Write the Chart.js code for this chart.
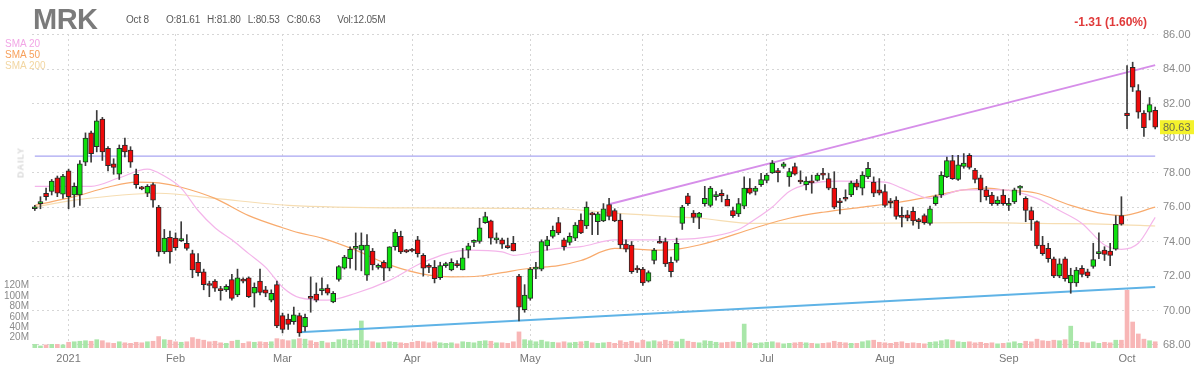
<!DOCTYPE html>
<html>
<head>
<meta charset="utf-8">
<script src="https://cdn.jsdelivr.net/npm/chart.js@4.4.0/dist/chart.umd.min.js"></script>
<style>
  html, body { margin: 0; padding: 0; background: #fff; }
  #wrap { position: relative; width: 1200px; height: 375px; overflow: hidden; font-family: 'Liberation Sans', Arial, sans-serif; }
  #chart { position: absolute; left: 0; top: 0; }
  .t { position: absolute; white-space: nowrap; line-height: 1; }
  #ticker { left: 33px; top: 5px; font-size: 29px; font-weight: bold; color: #7b7b7b; letter-spacing: -0.5px; }
  #info { left: 126px; top: 15px; font-size: 10px; color: #5a5a5a; letter-spacing: -0.2px; }
  #info span { margin-right: 7px; }
  #info span.gap { margin-right: 17px; }
  #chg { right: 53px; top: 16px; font-size: 12px; font-weight: bold; color: #e03a3a; }
  .sma { left: 5px; font-size: 10px; }
  #daily { left: 1px; top: 158px; width: 40px; text-align: center; font-size: 9px; font-weight: bold; color: #d8d8d8; letter-spacing: 1px; transform: rotate(-90deg); }
</style>
</head>
<body>
<div id="wrap">
  <canvas id="chart" width="1200" height="375"></canvas>
  <div class="t" id="ticker">MRK</div>
  <div class="t" id="info"><span class="gap">Oct 8</span><span>O:81.61</span><span>H:81.80</span><span>L:80.53</span><span class="gap">C:80.63</span><span>Vol:12.05M</span></div>
  <div class="t" id="chg">-1.31 (1.60%)</div>
  <div class="t sma" style="top:39px;color:#f2a6e6">SMA 20</div>
  <div class="t sma" style="top:50px;color:#f7a05c">SMA 50</div>
  <div class="t sma" style="top:61px;color:#f2d6a2">SMA 200</div>
  <div class="t" id="daily">DAILY</div>
</div>
<script>
// Trading days shown (Dec 23 2020 - Oct 8 2021)
const tradingDays = [
  ['2020-12', [23, 24, 28, 29, 30, 31]],
  ['2021-01', [4, 5, 6, 7, 8, 11, 12, 13, 14, 15, 19, 20, 21, 22, 25, 26, 27, 28, 29]],
  ['2021-02', [1, 2, 3, 4, 5, 8, 9, 10, 11, 12, 16, 17, 18, 19, 22, 23, 24, 25, 26]],
  ['2021-03', [1, 2, 3, 4, 5, 8, 9, 10, 11, 12, 15, 16, 17, 18, 19, 22, 23, 24, 25, 26, 29, 30, 31]],
  ['2021-04', [1, 5, 6, 7, 8, 9, 12, 13, 14, 15, 16, 19, 20, 21, 22, 23, 26, 27, 28, 29, 30]],
  ['2021-05', [3, 4, 5, 6, 7, 10, 11, 12, 13, 14, 17, 18, 19, 20, 21, 24, 25, 26, 27, 28]],
  ['2021-06', [1, 2, 3, 4, 7, 8, 9, 10, 11, 14, 15, 16, 17, 18, 21, 22, 23, 24, 25, 28, 29, 30]],
  ['2021-07', [1, 2, 6, 7, 8, 9, 12, 13, 14, 15, 16, 19, 20, 21, 22, 23, 26, 27, 28, 29, 30]],
  ['2021-08', [2, 3, 4, 5, 6, 9, 10, 11, 12, 13, 16, 17, 18, 19, 20, 23, 24, 25, 26, 27, 30, 31]],
  ['2021-09', [1, 2, 3, 7, 8, 9, 10, 13, 14, 15, 16, 17, 20, 21, 22, 23, 24, 27, 28, 29, 30]],
  ['2021-10', [1, 4, 5, 6, 7, 8]]
];
const monthLabels = ['2021', 'Feb', 'Mar', 'Apr', 'May', 'Jun', 'Jul', 'Aug', 'Sep', 'Oct'];
const priceTicks = [68, 70, 72, 74, 76, 78, 80, 82, 84, 86];
const volumeTicks = [20, 40, 60, 80, 100, 120];

const opens = [
  75.9, 76.2, 76.8, 76.9, 77.7, 76.75,
  78.1, 76.7, 76.7, 78.6, 80.3, 79.5, 81.1, 79.4, 78.5, 77.9, 79.6, 79.3, 77.9, 77.15, 76.8, 77.3, 76.0, 73.4, 74.25,
  74.2, 74.05, 73.9, 73.3, 72.8, 72.25, 71.5, 71.7, 71.2, 71.2, 71.8, 70.9, 71.8, 71.9, 71.0, 71.7, 71.2, 70.6, 71.5,
  69.7, 69.5, 69.35, 69.7, 69.05, 70.8, 70.95, 71.15, 71.3, 70.5, 71.8, 72.45, 73.0, 73.6, 73.5, 72.05, 73.45, 72.5, 72.8, 72.45, 73.7, 74.3, 73.45,
  73.5, 74.1, 73.2, 72.6, 72.5, 71.9, 72.6, 72.35, 72.7, 72.35, 73.5, 73.95, 74.0, 75.1, 75.2, 74.1, 74.1, 73.7, 73.9, 72.0, 70.05,
  70.7, 72.4, 72.4, 73.75, 74.3, 75.1, 74.1, 73.95, 74.2, 75.25, 74.9, 75.6, 75.15, 75.2, 76.15, 75.8, 75.25, 73.85, 73.8, 72.4,
  72.4, 71.7, 72.9, 74.0, 74.0, 72.8, 72.9, 75.05, 76.65, 75.65, 75.4, 76.2, 76.1, 76.6, 76.8, 76.45, 75.8, 75.6, 76.05, 77.1, 76.9, 77.3,
  77.55, 77.98, 78.05, 78.35, 77.75, 78.35, 77.5, 77.3, 77.45, 77.55, 77.9, 77.65, 77.1, 76.3, 76.5, 76.7, 77.4, 77.1, 77.75, 77.45, 77.0,
  76.9, 76.3, 76.4, 75.45, 75.55, 75.75, 75.2, 75.5, 75.05, 76.2, 76.7, 77.75, 78.7, 77.6, 78.35, 79.0, 78.15, 77.7, 77.0, 76.7, 76.2, 76.7,
  76.1, 76.3, 77.1, 76.5, 75.8, 75.15, 73.8, 73.6, 73.0, 72.0, 73.0, 71.6, 71.6, 72.45, 72.25, 72.55, 73.3, 73.5, 73.45, 73.55, 75.5,
  81.45, 84.1, 82.75, 81.45, 81.5, 81.61
];
const highs = [
  76.1, 76.6, 77.1, 77.6, 77.8, 77.9,
  78.2, 77.4, 78.7, 80.3, 80.4, 81.6, 81.2, 79.5, 78.8, 79.6, 80.0, 79.5, 78.2, 77.2, 77.3, 77.4, 76.1, 74.7, 74.6,
  74.5, 75.15, 74.4, 73.5, 73.3, 72.4, 71.7, 71.8, 71.4, 71.5, 72.1, 72.4, 71.9, 71.95, 71.6, 72.4, 71.4, 71.2, 71.7,
  69.85, 69.8, 70.2, 69.85, 69.8, 71.95, 71.6, 71.9, 71.5, 71.1, 72.6, 73.2, 73.7, 74.5, 74.5, 74.4, 73.6, 72.7, 72.9, 73.7, 74.7, 74.6, 73.55,
  73.6, 74.3, 73.3, 72.7, 72.9, 72.8, 72.8, 73.0, 72.9, 73.6, 73.9, 74.1, 75.35, 75.7, 75.25, 74.5, 74.2, 74.2, 74.3, 72.1, 71.5,
  72.5, 72.8, 74.1, 74.3, 74.9, 75.4, 74.2, 74.5, 75.1, 75.6, 76.3, 75.7, 75.7, 76.2, 76.5, 75.9, 75.6, 74.1, 74.0, 72.6,
  72.5, 72.3, 73.6, 74.3, 74.2, 73.1, 74.2, 76.1, 76.8, 75.8, 75.7, 77.2, 77.2, 76.9, 77.0, 76.7, 76.0, 76.5, 77.75, 77.65, 77.2, 77.95,
  77.95, 78.7, 78.25, 78.6, 78.25, 78.55, 78.1, 77.75, 77.85, 77.95, 78.25, 77.95, 78.05, 76.5, 77.0, 77.5, 77.6, 78.05, 78.6, 77.75, 77.65,
  77.3, 76.5, 76.6, 76.0, 75.8, 76.0, 75.35, 75.6, 76.05, 76.7, 78.05, 78.9, 79.0, 79.0, 79.1, 79.1, 78.25, 77.85, 77.2, 76.85, 76.6, 77.0,
  76.5, 77.1, 77.25, 76.6, 76.0, 75.2, 74.3, 73.9, 73.1, 73.0, 73.1, 72.45, 72.5, 72.6, 72.4, 73.9, 74.5, 73.7, 73.9, 75.5, 76.6,
  84.2, 84.4, 83.1, 81.6, 82.35, 81.80
];
const lows = [
  75.8, 75.9, 76.4, 76.7, 76.6, 76.5,
  75.9, 76.0, 76.1, 78.4, 78.6, 79.2, 78.7, 78.1, 77.9, 77.6, 78.9, 78.3, 77.1, 77.0, 76.6, 76.0, 73.15, 73.3, 72.75,
  73.5, 74.0, 73.5, 71.9, 72.0, 71.2, 70.8, 71.1, 70.6, 71.1, 70.6, 70.8, 71.6, 70.75, 70.2, 70.9, 70.8, 70.5, 69.0,
  68.7, 68.9, 69.2, 68.5, 68.8, 69.9, 70.5, 70.9, 70.9, 70.45, 71.7, 72.4, 72.45, 72.35, 72.3, 71.75, 72.35, 72.4, 71.75, 72.3, 73.5, 73.3, 73.35,
  73.4, 73.1, 72.0, 72.2, 71.6, 71.8, 72.5, 72.3, 72.5, 72.35, 73.05, 73.7, 73.9, 75.05, 73.85, 73.9, 73.6, 73.6, 73.45, 69.4, 69.9,
  70.6, 71.85, 72.3, 73.5, 74.2, 74.4, 73.5, 73.8, 74.05, 74.45, 74.75, 74.4, 74.4, 75.15, 75.25, 75.15, 73.6, 73.4, 72.15, 72.2,
  71.45, 71.65, 72.7, 73.9, 72.55, 71.95, 72.8, 74.7, 76.1, 75.1, 74.75, 76.05, 76.0, 76.4, 76.3, 76.1, 75.4, 75.45, 75.9, 76.75, 76.7, 77.2,
  77.4, 77.95, 77.45, 78.25, 77.2, 77.85, 77.35, 77.0, 76.8, 77.5, 77.6, 77.0, 75.9, 75.6, 76.35, 76.6, 77.0, 76.7, 77.65, 76.6, 76.7,
  76.0, 75.95, 75.3, 74.85, 75.2, 74.95, 74.75, 75.0, 74.95, 76.1, 76.55, 77.7, 77.6, 77.55, 78.25, 78.2, 77.4, 76.3, 76.4, 76.1, 76.1, 76.1,
  75.8, 76.2, 76.7, 75.15, 74.65, 73.6, 73.2, 72.8, 71.9, 71.9, 71.7, 71.0, 71.4, 71.95, 71.9, 72.45, 73.0, 72.9, 72.6, 73.5, 74.95,
  80.55, 82.7, 81.15, 80.1, 81.05, 80.53
];
const closes = [
  76.0, 76.3, 76.6, 77.5, 76.8, 77.8,
  76.6, 77.2, 78.5, 80.0, 79.1, 81.0, 79.2, 78.4, 78.3, 79.4, 79.2, 78.6, 77.3, 77.05, 77.2, 76.4, 73.4, 74.2, 73.4,
  73.65, 74.1, 73.6, 72.35, 72.2, 71.5, 71.45, 71.3, 71.15, 71.4, 70.7, 71.9, 71.7, 70.8, 71.35, 71.05, 71.0, 71.0, 69.1,
  68.9, 69.2, 69.75, 68.7, 69.6, 70.7, 70.6, 71.2, 71.0, 71.0, 72.55, 73.1, 73.55, 73.65, 73.8, 73.8, 72.65, 72.6, 72.45, 73.7, 74.55, 73.4, 73.4,
  73.45, 73.3, 72.45, 72.5, 71.85, 72.6, 72.65, 72.8, 72.6, 73.05, 73.75, 74.0, 74.8, 75.45, 74.2, 74.15, 73.85, 73.65, 73.45, 70.2, 70.9,
  72.4, 72.45, 74.0, 74.1, 74.65, 74.5, 73.7, 74.3, 74.95, 74.5, 76.0, 75.55, 75.6, 75.9, 75.45, 75.2, 73.8, 73.55, 72.25, 72.35,
  71.6, 72.2, 73.5, 73.9, 72.7, 72.25, 73.9, 76.0, 76.2, 75.4, 75.65, 76.5, 77.1, 76.65, 76.65, 76.05, 75.5, 76.2, 77.1, 76.8, 77.1, 77.6,
  77.85, 78.55, 78.0, 78.5, 78.05, 77.9, 77.45, 77.5, 77.4, 77.85, 77.85, 77.1, 76.0, 76.25, 76.45, 77.4, 77.15, 77.85, 78.25, 76.8, 76.8,
  76.1, 76.25, 75.45, 75.4, 75.35, 75.2, 75.15, 75.1, 75.9, 76.6, 77.85, 78.7, 77.65, 78.45, 78.55, 78.3, 77.6, 77.0, 76.6, 76.2, 76.4, 76.2,
  76.15, 77.0, 77.15, 75.8, 75.25, 73.75, 73.3, 73.0, 72.0, 72.7, 71.85, 72.05, 72.35, 72.1, 72.0, 72.95, 73.4, 73.25, 73.2, 75.0, 75.0,
  81.3, 82.95, 81.5, 80.6, 81.94, 80.63
];
// volume in millions
const volumes = [
  7, 4, 6, 7, 7, 6,
  11, 12, 13, 14, 13, 16, 14, 10, 9, 12, 10, 9, 11, 10, 12, 13, 22, 16, 15,
  12, 11, 12, 20, 17, 15, 12, 13, 10, 9, 13, 15, 9, 12, 11, 12, 11, 12, 18,
  16, 14, 16, 18, 17, 14, 11, 13, 10, 11, 16, 17, 15, 15, 52, 14, 12, 10, 11, 12, 11, 10, 9,
  11, 13, 12, 10, 12, 10, 9, 10, 8, 12, 11, 10, 13, 14, 13, 10, 10, 9, 12, 31, 16,
  14, 12, 15, 12, 11, 10, 12, 10, 11, 12, 13, 10, 9, 10, 11, 9, 14, 11, 13, 10,
  15, 12, 14, 12, 15, 13, 12, 17, 13, 11, 10, 14, 13, 11, 10, 11, 12, 11, 46, 10, 9, 10,
  11, 12, 10, 8, 9, 10, 11, 10, 9, 8, 9, 10, 13, 11, 10, 9, 9, 12, 14, 15, 11,
  10, 9, 11, 12, 9, 10, 9, 8, 11, 12, 14, 16, 15, 12, 11, 12, 10, 11, 9, 10, 8, 9,
  10, 12, 9, 13, 12, 17, 14, 13, 15, 14, 16, 42, 13, 11, 10, 12, 9, 11, 10, 15, 15,
  111, 50, 27, 17, 14, 12.05
];

// moving averages: [day index, value]
const sma20 = [
  [0, 77.2], [10, 77.2], [15, 77.7], [20, 78.2], [23, 77.8], [26, 77.1], [29, 75.8], [32, 74.8],
  [35, 74.1], [38, 73.3], [41, 72.5], [44, 71.35], [47, 70.75], [52, 70.6], [57, 71.0], [63, 71.75],
  [69, 72.8], [77, 73.5], [83, 73.4], [85, 73.2], [89, 73.4], [93, 73.6], [97, 73.7], [103, 74.1],
  [109, 74.1], [118, 74.2], [125, 74.7], [128, 75.3], [131, 76.0], [134, 76.9], [137, 77.3], [143, 77.5],
  [151, 77.45], [154, 77.1], [159, 76.5], [165, 77.0], [172, 77.0], [178, 76.5], [182, 75.8], [186, 75.05],
  [190, 73.8], [193, 73.55], [196, 73.9], [199, 75.4]
];
const sma50 = [
  [0, 76.1], [7, 76.6], [13, 77.15], [18, 77.45], [22, 77.4], [26, 77.15], [32, 76.5], [38, 75.5],
  [44, 74.8], [47, 74.5], [51, 74.2], [57, 73.5], [63, 72.65], [70, 72.05], [74, 71.95], [79, 72.0],
  [83, 72.2], [88, 72.45], [93, 72.6], [97, 72.9], [103, 73.6], [112, 73.5], [118, 73.8], [128, 74.8],
  [134, 75.35], [140, 75.7], [147, 76.0], [153, 76.25], [159, 76.6], [165, 77.0], [169, 77.1], [172, 77.0],
  [178, 76.8], [184, 76.1], [190, 75.6], [193, 75.5], [199, 76.0]
];
const sma200 = [
  [0, 76.0], [7, 76.4], [22, 76.8], [32, 76.5], [45, 76.1], [69, 75.95], [93, 75.9], [103, 75.65],
  [118, 75.35], [128, 75.05], [143, 75.05], [168, 75.1], [178, 75.05], [191, 75.0], [199, 74.9]
];
// drawn trend lines: [day index, price]
const upperTrend = [[102, 76.16], [199, 84.23]];
const lowerTrend = [[47, 68.74], [199, 71.36]];
const resistance = [[0, 78.95], [199, 78.95]];

const labels = [];
tradingDays.forEach(([m, days]) => days.forEach(d => labels.push(m + '-' + String(d).padStart(2, '0'))));
const monthStarts = tradingDays.slice(1).map(([m, days]) => labels.indexOf(m + '-' + String(days[0]).padStart(2, '0')));

const isUp = closes.map((c, i) => c >= opens[i]);
const pts = arr => arr.map(([i, v]) => ({ x: labels[i], y: v }));
const FONT = "'Liberation Sans', Arial, sans-serif";

const lineSet = (data, color, width, order) => ({
  type: 'line', data: pts(data), borderColor: color, borderWidth: width,
  pointRadius: 0, cubicInterpolationMode: 'monotone', yAxisID: 'y', order
});

// yellow last-price tag on the right axis
const lastTag = {
  id: 'lastTag',
  afterDraw(chart) {
    const { ctx, scales: { y } } = chart;
    const v = closes[closes.length - 1];
    const py = y.getPixelForValue(v);
    ctx.save();
    ctx.fillStyle = '#f4f22c';
    ctx.fillRect(y.left + 2, py - 7, 34, 14);
    ctx.fillStyle = '#6b6b50';
    ctx.font = '11px ' + FONT;
    ctx.textBaseline = 'middle';
    ctx.fillText(v.toFixed(2), y.left + 5, py + 1);
    ctx.restore();
  }
};

const ctx = document.getElementById('chart').getContext('2d');
new Chart(ctx, {
  type: 'bar',
  data: {
    labels,
    datasets: [
      {
        data: opens.map((o, i) => [o, closes[i]]),
        backgroundColor: isUp.map(u => u ? '#0ee00e' : '#ee0a0a'),
        borderColor: '#2a2a2a', borderWidth: 1, borderSkipped: false,
        barThickness: 5, minBarLength: 2, grouped: false, yAxisID: 'y', order: 0
      },
      {
        data: lows.map((l, i) => [l, highs[i]]),
        backgroundColor: '#3a3a3a', barThickness: 1, grouped: false, yAxisID: 'y', order: 1
      },
      lineSet(upperTrend, '#d68ee9', 2, 2),
      lineSet(lowerTrend, '#5fb3e6', 2, 2),
      lineSet(resistance, '#a9a6f2', 1.3, 2),
      lineSet(sma20, '#f4b5ea', 1.2, 3),
      lineSet(sma50, '#f8ab6e', 1.2, 3),
      lineSet(sma200, '#f6ddb2', 1.2, 3),
      {
        data: volumes.map(v => v * 1e6),
        backgroundColor: isUp.map(u => u ? '#a9e6a9' : '#f8b6b6'),
        barThickness: 4, grouped: false, yAxisID: 'yv', order: 6
      }
    ]
  },
  plugins: [lastTag],
  options: {
    responsive: false,
    animation: false,
    layout: { padding: { top: 34 } },
    plugins: { legend: { display: false }, tooltip: { enabled: false } },
    scales: {
      x: {
        offset: true,
        grid: { offset: false, color: '#d6d6d6', drawTicks: false },
        border: { display: false, dash: [2, 3] },
        ticks: {
          autoSkip: false, maxRotation: 0, padding: 4, color: '#777',
          font: { family: FONT, size: 11 },
          callback: (v, i) => monthLabels[i]
        },
        afterBuildTicks: s => { s.ticks = monthStarts.map(v => ({ value: v })); },
        afterFit: s => { s.height = 27; }
      },
      y: {
        position: 'right',
        min: 67.826, max: 86.035,
        grid: { color: '#d6d6d6', drawTicks: false },
        border: { display: false, dash: [2, 3] },
        ticks: { padding: 5, color: '#8a8a8a', font: { family: FONT, size: 11 }, callback: v => v.toFixed(2) },
        afterBuildTicks: s => { s.ticks = priceTicks.map(v => ({ value: v })); },
        afterFit: s => { s.width = 42; }
      },
      yv: {
        position: 'left',
        min: 0, max: 604e6,
        grid: { display: false, drawTicks: false },
        border: { display: false },
        ticks: { padding: 3, color: '#8a8a8a', font: { family: FONT, size: 10 }, callback: v => (v / 1e6) + 'M' },
        afterBuildTicks: s => { s.ticks = volumeTicks.map(v => ({ value: v * 1e6 })); },
        afterFit: s => { s.width = 32; }
      }
    }
  }
});
</script>
</body>
</html>
